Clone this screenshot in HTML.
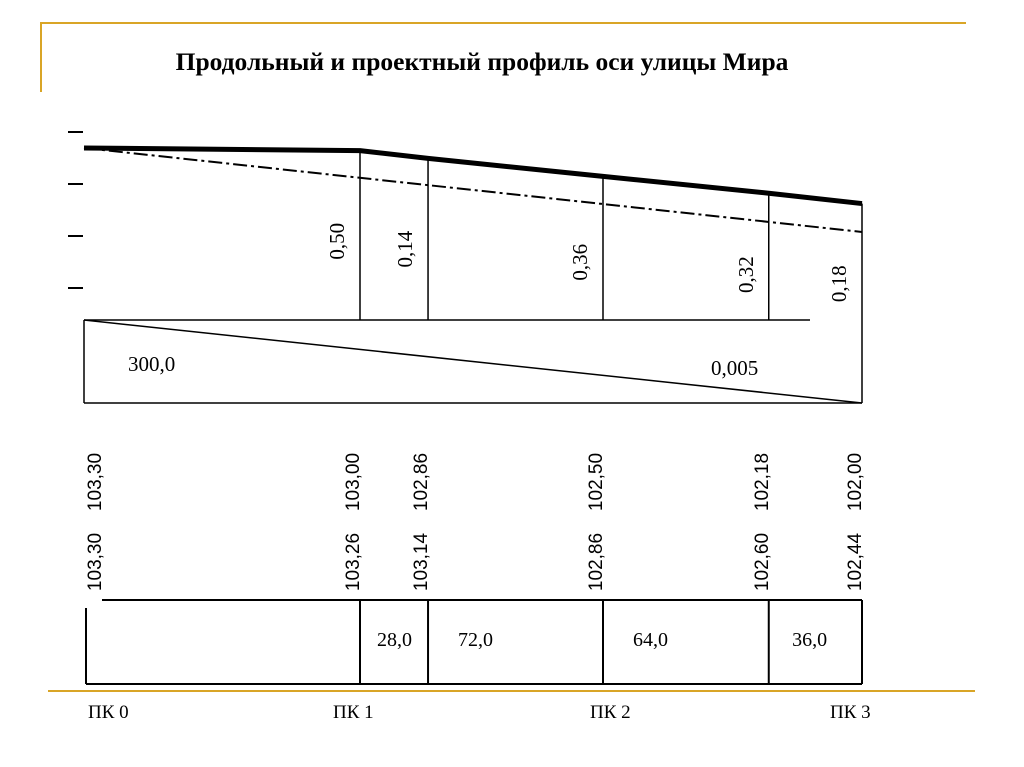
<!DOCTYPE html>
<html><head><meta charset="utf-8">
<style>
html,body{margin:0;padding:0;background:#fff;}
svg{display:block;}
</style></head>
<body>
<svg id="c" width="1024" height="767" viewBox="0 0 1024 767" xmlns="http://www.w3.org/2000/svg">
  <line x1="40" y1="23" x2="966" y2="23" stroke="#d9a526" stroke-width="2"/>
  <line x1="41" y1="23" x2="41" y2="92" stroke="#d9a526" stroke-width="2"/>
  <line x1="48" y1="691" x2="975" y2="691" stroke="#d9a526" stroke-width="2"/>
  <text x="482" y="70" text-anchor="middle" font-family="Liberation Serif, serif" font-weight="bold" font-size="25.5">Продольный и проектный профиль оси улицы Мира</text>
  <g id="ticks"></g>
  <g id="marks"></g>
</svg>
<script>
// data
const stations = [0, 100, 128, 200, 264, 300];           // metres
const designElev = [103.30, 103.00, 102.86, 102.50, 102.18, 102.00];
const groundElev = [103.30, 103.26, 103.14, 102.86, 102.60, 102.44];
const workMarks = ["", "0,50", "0,14", "0,36", "0,32", "0,18"];
const segLengths = ["", "28,0", "72,0", "64,0", "36,0"];
const pkLabels = ["ПК  0", "ПК 1", "ПК 2", "ПК 3"];
const pkStations = [0, 100, 200, 300];
const slopeLength = "300,0";
const slopeValue = "0,005";

const NS = "http://www.w3.org/2000/svg";
const marks = document.getElementById('marks');
// piecewise station axis (pickets are drawn at fixed stretches on the sheet)
const pkPix = [84, 360, 603, 862];
function X(d){
  for (let k = 0; k < pkStations.length - 1; k++){
    if (d <= pkStations[k+1] || k === pkStations.length - 2){
      const t = (d - pkStations[k]) / (pkStations[k+1] - pkStations[k]);
      return pkPix[k] + t * (pkPix[k+1] - pkPix[k]);
    }
  }
}
function Y(v){ return 148 + (103.30 - v) * 64.6; }
function el(tag, attrs, parent){
  const e = document.createElementNS(NS, tag);
  for (const k in attrs) e.setAttribute(k, attrs[k]);
  (parent || marks).appendChild(e);
  return e;
}
function fmt(v){ return v.toFixed(2).replace('.', ','); }

// left ticks
const tg = document.getElementById('ticks');
[132,184,236,288].forEach(y=>{
  const t = el('line',{x1:68,y1:y,x2:83,y2:y,stroke:'#000','stroke-width':2},tg);
  
  
});

// ground (thick) line
let pts = stations.map((d,i)=>X(d)+','+Y(groundElev[i])).join(' ');
let g = el('polyline',{points:pts,fill:'none',stroke:'#000','stroke-width':5,'stroke-linejoin':'round'});



// design (dash-dot) line
let n = stations.length-1;
let dl = el('line',{x1:X(stations[0]),y1:Y(designElev[0]),x2:X(stations[n]),y2:Y(designElev[n]),stroke:'#000','stroke-width':2,'stroke-dasharray':'14,4,3,4'});



// verticals + work marks
stations.forEach((d,i)=>{
  if(i===0) return;
  const x = X(d);
  const v = el('line',{x1:x,y1:Y(groundElev[i]),x2:x,y2:320,stroke:'#000','stroke-width':1.5});
  
  
  const ty = (Y(groundElev[i]) + 320)/2 + 2 + i*4;
  const t = el('text',{x:0,y:0,transform:`translate(${x-16},${ty}) rotate(-90)`,'text-anchor':'middle','font-family':'Liberation Serif, serif','font-size':21});
  t.textContent = workMarks[i];
  
  
});

// slope box
const x0 = X(stations[0]), xN = X(stations[n]);
[[x0,320,810,320],[x0,403,xN,403],[x0,320,x0,403],[xN,320,xN,403],[x0,320,xN,403]].forEach(a=>{
  const l = el('line',{x1:a[0],y1:a[1],x2:a[2],y2:a[3],stroke:'#000','stroke-width':1.5});
  
  
});
let sl = el('text',{x:128,y:371,'font-family':'Liberation Serif, serif','font-size':21});
sl.textContent = slopeLength;


let sv = el('text',{x:711,y:375,'font-family':'Liberation Serif, serif','font-size':21});
sv.textContent = slopeValue;



// elevation labels
stations.forEach((d,i)=>{
  const x = Math.max(X(d) - 1, 101);
  const t1 = el('text',{transform:`translate(${x},${482}) rotate(-90)`,'text-anchor':'middle','font-family':'Liberation Sans, sans-serif','font-size':19});
  t1.textContent = fmt(designElev[i]);
  
  
  const t2 = el('text',{transform:`translate(${x},${562}) rotate(-90)`,'text-anchor':'middle','font-family':'Liberation Sans, sans-serif','font-size':19});
  t2.textContent = fmt(groundElev[i]);
  
  
});

// distances box
[[102,600,xN,600],[86,684,xN,684],[86,608,86,684]].forEach(a=>{
  const l = el('line',{x1:a[0],y1:a[1],x2:a[2],y2:a[3],stroke:'#000','stroke-width':2});
  
  
});
stations.forEach((d,i)=>{
  if(i===0) return;
  const x = X(d);
  const l = el('line',{x1:x,y1:600,x2:x,y2:684,stroke:'#000','stroke-width':2});
  
  
  if(i<n){
    const w = X(stations[i+1]) - x;
    const t = el('text',{x:x + Math.min(w*0.25, 30),y:646,'font-family':'Liberation Serif, serif','font-size':20});
    t.textContent = segLengths[i];
    
    
  }
});

// PK labels
pkStations.forEach((d,i)=>{
  const t = el('text',{x:X(d)+4 - (i===3?36:(i===2?17:(i>0?31:0))),y:718,'font-family':'Liberation Serif, serif','font-size':19});
  t.textContent = pkLabels[i];
  
  
});
</script>
</body></html>
